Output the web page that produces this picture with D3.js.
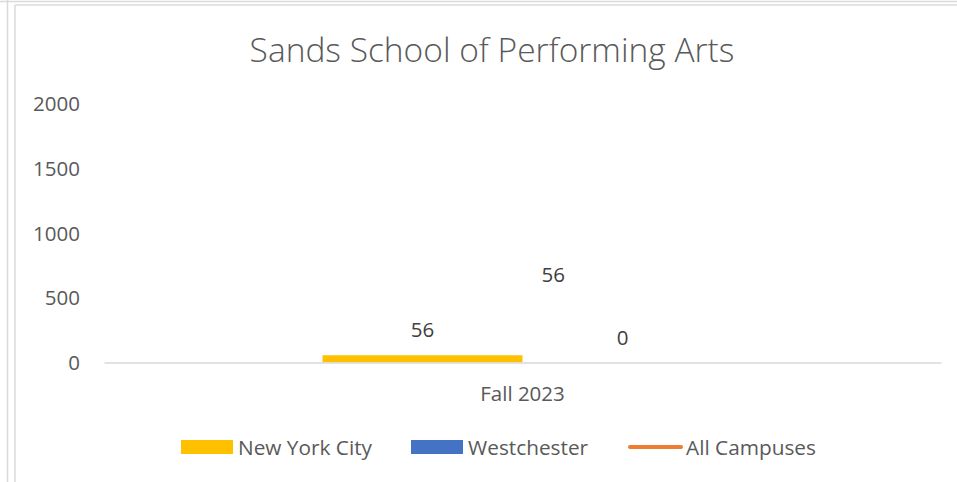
<!DOCTYPE html>
<html>
<head>
<meta charset="utf-8">
<script src="https://cdn.jsdelivr.net/npm/d3@7"></script>
<style>
  html, body { margin: 0; padding: 0; background: #fff; }
  svg { display: block; font-family: "Open Sans", "Noto Sans", sans-serif; }
</style>
</head>
<body>
<svg id="chart" width="957" height="482"></svg>
<script>
// data
var categories = ["Fall 2023"];
var barSeries = ["New York City", "Westchester"];
var newYorkCity = [56];
var westchester = [0];
var allCampuses = [56];
var yTicks = [0, 500, 1000, 1500, 2000];
var title = "Sands School of Performing Arts";

var colors = { "New York City": "#FFC000", "Westchester": "#4472C4", "All Campuses": "#ED7D31" };
var barValues = { "New York City": newYorkCity, "Westchester": westchester };

var svg = d3.select("#chart");
var width = 957, height = 482;
var plot = { left: 104, right: 941, top: 103.5, bottom: 362.5 };

// sheet border lines
var border = svg.append("g").attr("stroke", "#dadada").attr("stroke-width", 1.5);
border.append("line").attr("x1", 7.5).attr("x2", 7.5).attr("y1", 0).attr("y2", height);
border.append("line").attr("x1", 15).attr("x2", 15).attr("y1", 5).attr("y2", height);
border.append("line").attr("x1", 0).attr("x2", width).attr("y1", 1.5).attr("y2", 1.5);
border.append("line").attr("x1", 15).attr("x2", width).attr("y1", 5).attr("y2", 5);

// scales
var x0 = d3.scaleBand().domain(categories).range([plot.left, plot.right]).padding(0);
var x1 = d3.scaleBand().domain(barSeries).range([0, x0.bandwidth()])
	.paddingInner(0).paddingOuter(1.0925);
var y = d3.scaleLinear().domain([0, 2000]).range([plot.bottom, plot.top]);
// secondary (hidden) axis for the line series
var y2 = d3.scaleLinear().domain([0, 166]).range([plot.bottom, plot.top]);

// title
svg.append("text")
	.attr("x", 492).attr("y", 62)
	.attr("text-anchor", "middle")
	.attr("font-size", 33.5).attr("font-weight", 300)
	.attr("fill", "#595959")
	.text(title);

// y axis labels (no line, no ticks)
var yAxis = svg.append("g")
	.attr("transform", "translate(80,0)")
	.call(d3.axisLeft(y).tickValues(yTicks).tickFormat(d3.format("d")).tickSize(0).tickPadding(0));
yAxis.select(".domain").remove();
yAxis.selectAll("text")
	.attr("font-size", 20.5).attr("font-family", "Open Sans, Noto Sans, sans-serif")
	.attr("fill", "#595959").attr("dy", "0.35em");

// bars
var groups = svg.append("g").selectAll("g")
	.data(categories)
	.join("g")
	.attr("transform", function(d) { return "translate(" + x0(d) + ",0)"; });

barSeries.forEach(function(s) {
	groups.append("rect")
		.attr("x", x1(s))
		.attr("width", x1.bandwidth())
		.attr("y", function(d, i) { return y(barValues[s][i]); })
		.attr("height", function(d, i) { return y(0) - y(barValues[s][i]); })
		.attr("fill", colors[s]);
	groups.append("text")
		.attr("x", x1(s) + x1.bandwidth() / 2)
		.attr("y", function(d, i) { return y(barValues[s][i]) - 18; })
		.attr("text-anchor", "middle")
		.attr("font-size", 20.5).attr("fill", "#404040")
		.text(function(d, i) { return barValues[s][i]; });
});

// x axis
var xAxis = svg.append("g")
	.attr("transform", "translate(0," + plot.bottom + ")")
	.call(d3.axisBottom(x0).tickSize(0).tickPadding(0));
xAxis.select(".domain").attr("stroke", "#d9d9d9").attr("stroke-width", 1.5);
xAxis.selectAll("text")
	.attr("font-size", 20.5).attr("font-family", "Open Sans, Noto Sans, sans-serif")
	.attr("fill", "#595959").attr("dy", 38).attr("y", 0);

// line series (single point, so no visible segment)
var line = d3.line()
	.x(function(d, i) { return x0(categories[i]) + x0.bandwidth() / 2; })
	.y(function(d) { return y2(d); });
svg.append("path")
	.datum(allCampuses)
	.attr("d", line)
	.attr("fill", "none")
	.attr("stroke", colors["All Campuses"])
	.attr("stroke-width", 3);
svg.append("g").selectAll("text")
	.data(allCampuses)
	.join("text")
	.attr("x", function(d, i) { return x0(categories[i]) + x0.bandwidth() / 2 + 19; })
	.attr("y", function(d) { return y2(d); })
	.attr("dy", "0.35em")
	.attr("font-size", 20.5).attr("fill", "#404040")
	.text(function(d) { return d; });

// legend
var legendItems = [
	{ name: "New York City", type: "rect", x: 181 },
	{ name: "Westchester", type: "rect", x: 411 },
	{ name: "All Campuses", type: "line", x: 628 }
];
var legend = svg.append("g");
legendItems.forEach(function(it) {
	if (it.type == "rect") {
		legend.append("rect")
			.attr("x", it.x).attr("y", 440)
			.attr("width", 52).attr("height", 14)
			.attr("fill", colors[it.name]);
		legend.append("text")
			.attr("x", it.x + 57).attr("y", 455)
			.attr("font-size", 20.8).attr("fill", "#595959")
			.text(it.name);
	} else {
		legend.append("line")
			.attr("x1", it.x + 2).attr("x2", it.x + 53)
			.attr("y1", 447).attr("y2", 447)
			.attr("stroke", colors[it.name]).attr("stroke-width", 4)
			.attr("stroke-linecap", "round");
		legend.append("text")
			.attr("x", it.x + 58).attr("y", 455)
			.attr("font-size", 20.8).attr("fill", "#595959")
			.text(it.name);
	}
});
</script>
</body>
</html>
